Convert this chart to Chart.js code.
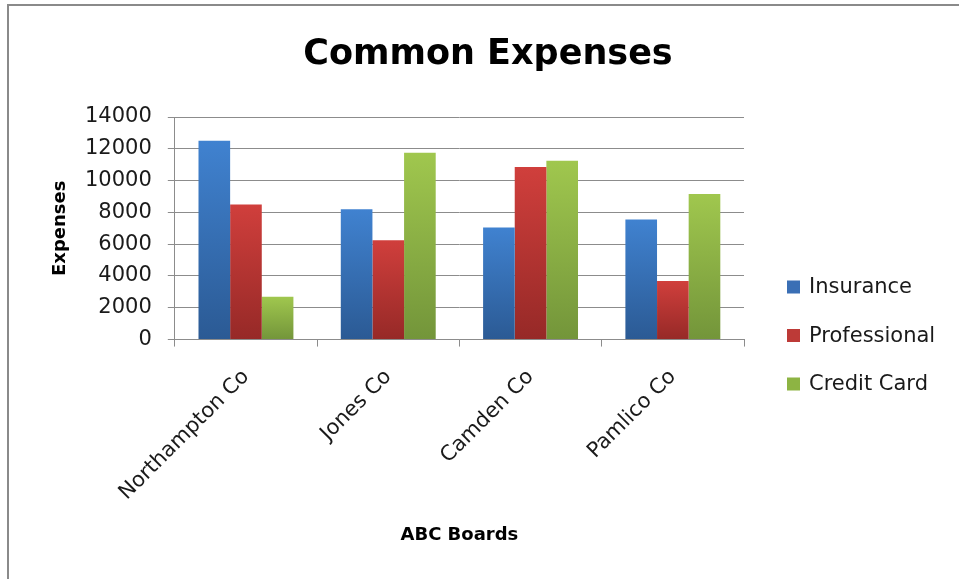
<!DOCTYPE html>
<html>
<head>
<meta charset="utf-8">
<script src="https://cdn.jsdelivr.net/npm/chart.js@4/dist/chart.umd.min.js"></script>
<style>
  html, body { margin: 0; padding: 0; background: #ffffff; }
  #wrap { width: 959px; height: 579px; position: relative; }
</style>
</head>
<body>
<div id="wrap"><canvas id="c" width="959" height="579"></canvas></div>
<script>
// Boards and their expense totals
const categories = ['Northampton Co', 'Jones Co', 'Camden Co', 'Pamlico Co'];
const insurance = [12500, 8200, 7050, 7550];
const professional = [8500, 6250, 10850, 3680];
const creditCard = [2700, 11750, 11250, 9150];
const seriesNames = ['Insurance', 'Professional', 'Credit Card'];
const yMax = 14000;
const yStep = 2000;

const FONT = '"DejaVu Sans", "Liberation Sans", sans-serif';
const GRID = '#8c8c8c';

// light top / swatch / dark base for each series
const palette = [
  { top: '#4082d0', mid: '#3a6fb5', bottom: '#2b5a94' },
  { top: '#d03f3c', mid: '#bd3a37', bottom: '#962927' },
  { top: '#a0c74e', mid: '#8db443', bottom: '#73953a' }
];

// vertical gradient per bar, light at the top and darker at the base
function barFill(p) {
  return (ctx) => {
    const chart = ctx.chart;
    if (ctx.type !== 'data' || !chart.chartArea || !chart.scales.y) return p.mid;
    const y0 = chart.scales.y.getPixelForValue(ctx.raw);
    const y1 = chart.scales.y.getPixelForValue(0);
    const g = chart.ctx.createLinearGradient(0, y0, 0, y1);
    g.addColorStop(0, p.top);
    g.addColorStop(1, p.bottom);
    return g;
  };
}

// thin frame along the top and left edges
const framePlugin = {
  id: 'frame',
  beforeDraw(chart) {
    const c = chart.ctx;
    c.save();
    c.strokeStyle = '#8a8a8a';
    c.lineWidth = 2;
    c.beginPath();
    c.moveTo(8, chart.height);
    c.lineTo(8, 5);
    c.lineTo(chart.width, 5);
    c.stroke();
    c.restore();
  }
};

// series key to the right of the plot, one row per dataset
const keyPlugin = {
  id: 'seriesKey',
  afterDraw(chart) {
    const c = chart.ctx;
    const x = chart.chartArea.right + 43;
    const firstRow = 287;
    const rowGap = 48.5;
    c.save();
    c.font = '21px ' + FONT;
    c.textBaseline = 'middle';
    c.textAlign = 'left';
    chart.data.datasets.forEach((ds, i) => {
      const y = firstRow + i * rowGap;
      c.fillStyle = palette[i].mid;
      c.fillRect(x, y - 6.5, 13, 13);
      c.fillStyle = '#1a1a1a';
      c.fillText(ds.label, x + 22, y + 1);
    });
    c.restore();
  }
};

new Chart(document.getElementById('c'), {
  type: 'bar',
  data: {
    labels: categories,
    datasets: [
      { label: seriesNames[0], data: insurance, backgroundColor: barFill(palette[0]) },
      { label: seriesNames[1], data: professional, backgroundColor: barFill(palette[1]) },
      { label: seriesNames[2], data: creditCard, backgroundColor: barFill(palette[2]) }
    ]
  },
  options: {
    responsive: false,
    animation: false,
    devicePixelRatio: 1,
    categoryPercentage: 0.667,
    barPercentage: 1.0,
    layout: { padding: { top: 8, left: 17, right: 0, bottom: 0 } },
    plugins: {
      tooltip: { enabled: false },
      legend: { display: false },
      title: {
        display: true,
        text: 'Common Expenses',
        color: '#000000',
        font: { family: FONT, size: 35, weight: 'bold' },
        padding: { top: 26, bottom: 41 }
      }
    },
    scales: {
      x: {
        grid: { drawOnChartArea: false, drawTicks: true, tickLength: 7, color: GRID, offset: true },
        border: { color: GRID, width: 1 },
        ticks: {
          minRotation: 45, maxRotation: 45, padding: 18,
          color: '#1a1a1a',
          font: { family: FONT, size: 21 }
        },
        title: {
          display: true,
          text: 'ABC Boards',
          color: '#000000',
          font: { family: FONT, size: 18, weight: 'bold' },
          padding: { top: 1, bottom: 33 }
        }
      },
      y: {
        min: 0,
        max: yMax,
        grid: { color: GRID, lineWidth: 1, tickLength: 7, drawTicks: true },
        border: { color: GRID, width: 1 },
        ticks: {
          stepSize: yStep, padding: 16,
          color: '#1a1a1a',
          font: { family: FONT, size: 21 },
          callback: (v) => String(v)
        },
        title: {
          display: true,
          text: 'Expenses',
          color: '#000000',
          font: { family: FONT, size: 18, weight: 'bold', lineHeight: 1 },
          padding: { top: 34, bottom: 0 }
        }
      },
      // empty strip on the right that holds the series key
      keySpace: {
        type: 'linear', position: 'right', display: true,
        grid: { display: false }, ticks: { display: false }, border: { display: false },
        afterFit(s) { s.width = 215; }
      }
    }
  },
  plugins: [framePlugin, keyPlugin]
});
</script>
</body>
</html>
